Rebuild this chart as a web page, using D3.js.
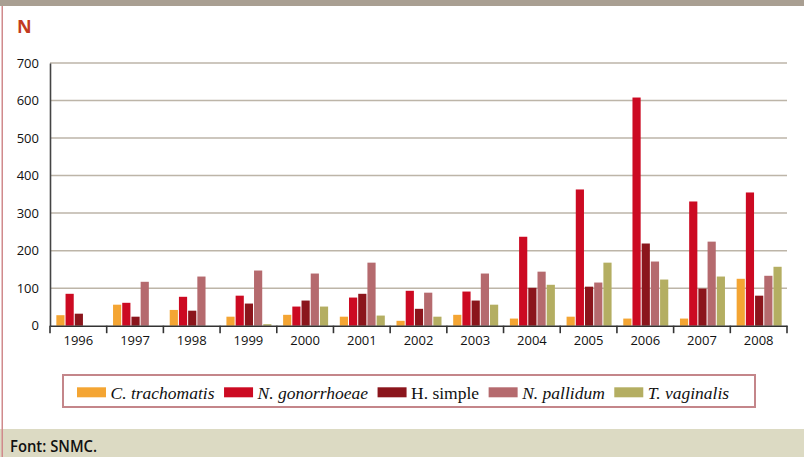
<!DOCTYPE html>
<html>
<head>
<meta charset="utf-8">
<script src="https://cdn.jsdelivr.net/npm/d3@7"></script>
<style>
  html, body { margin: 0; padding: 0; background: #fff; }
  svg { display: block; }
</style>
</head>
<body>
<svg id="chart" width="804" height="457"></svg>
<script>
const years = ["1996","1997","1998","1999","2000","2001","2002","2003","2004","2005","2006","2007","2008"];
const seriesNames = ["C. trachomatis","N. gonorrhoeae","H. simple","N. pallidum","T. vaginalis"];
const seriesItalic = [true, true, false, true, true];
const cTrachomatis = [28, 56, 42, 24, 29, 24, 13, 29, 19, 24, 19, 19, 125];
const nGonorrhoeae = [85, 61, 77, 80, 51, 75, 93, 91, 237, 363, 608, 331, 355];
const hSimple      = [32, 24, 40, 59, 67, 85, 45, 67, 101, 104, 219, 99, 80];
const nPallidum    = [0, 117, 131, 147, 139, 168, 88, 139, 144, 115, 171, 224, 133];
const tVaginalis   = [0, 0, 0, 4, 51, 27, 24, 56, 109, 168, 123, 131, 157];
const yTicks = [0, 100, 200, 300, 400, 500, 600, 700];
const colors = ["#F4A533", "#CC0A22", "#8B151C", "#B56A6E", "#B4AE62"];

const series = [cTrachomatis, nGonorrhoeae, hSimple, nPallidum, tVaginalis];

const svg = d3.select("#chart");
const W = 804, H = 457;
const mLeft = 50, mRight = 787, mTop = 63, mBottom = 325.7;

// frame decorations
svg.append("rect").attr("x",0).attr("y",0).attr("width",W).attr("height",6).attr("fill","#A99F92");
svg.append("rect").attr("x",0).attr("y",429).attr("width",W).attr("height",28).attr("fill","#DCDAC3");
svg.append("rect").attr("x",1.5).attr("y",6).attr("width",1.5).attr("height",H-6).attr("fill","#D08A8C");

svg.append("text").attr("x",17).attr("y",33.3)
  .attr("font-family","'Open Sans', sans-serif").attr("font-weight","bold")
  .attr("font-size",18).attr("fill","#C23B1E").text("N");

svg.append("text").attr("x",10).attr("y",451.5)
  .attr("font-family","'Open Sans', sans-serif").attr("font-size",16).attr("font-weight",600)
  .attr("fill","#111").attr("textLength",87).attr("lengthAdjust","spacingAndGlyphs").text("Font: SNMC.");

const x0 = d3.scaleBand().domain(years).range([mLeft, mRight]).paddingInner(0).paddingOuter(0);
const x1 = d3.scaleBand().domain(d3.range(series.length)).range([0, 45]).paddingInner(1/9).paddingOuter(0);
const y = d3.scaleLinear().domain([0, 700]).range([mBottom, mTop]);

// gridlines
svg.append("g").selectAll("line").data(yTicks.filter(d => d > 0)).join("line")
  .attr("x1", mLeft).attr("x2", mRight)
  .attr("y1", d => y(d)).attr("y2", d => y(d))
  .attr("stroke", "#BDB5A8").attr("stroke-width", 1.5);

// bars
const groups = svg.append("g").selectAll("g").data(years).join("g")
  .attr("transform", d => `translate(${x0(d) + (x0.bandwidth() - 44) / 2},0)`);
groups.selectAll("rect").data((d, i) => series.map((s, k) => ({k, v: s[i]}))).join("rect")
  .attr("x", d => x1(d.k)).attr("width", x1.bandwidth())
  .attr("y", d => y(d.v)).attr("height", d => y(0) - y(d.v))
  .attr("fill", d => colors[d.k]);

// y axis
const yAxis = svg.append("g").attr("transform", `translate(${mLeft},0)`)
  .call(d3.axisLeft(y).tickValues(yTicks).tickSize(0).tickPadding(11));
yAxis.select(".domain").attr("stroke", "#444").attr("stroke-width", 1.6);
yAxis.selectAll("text").attr("font-family", "'Open Sans', sans-serif").attr("font-size", 13).attr("fill", "#111");

// x axis
const xAxis = svg.append("g").attr("transform", `translate(0,${mBottom})`)
  .call(d3.axisBottom(x0).tickSize(0).tickPadding(10));
xAxis.select(".domain").attr("stroke", "#333").attr("stroke-width", 1.6);
xAxis.selectAll("text").attr("font-family", "'Open Sans', sans-serif").attr("font-size", 13).attr("fill", "#111");
svg.append("g").selectAll("line").data(d3.range(years.length + 1)).join("line")
  .attr("x1", i => mLeft + i * x0.step()).attr("x2", i => mLeft + i * x0.step())
  .attr("y1", mBottom).attr("y2", mBottom + 7.5)
  .attr("stroke", "#333").attr("stroke-width", 1.6);

// legend
svg.append("rect").attr("x", 63).attr("y", 375).attr("width", 692).attr("height", 32)
  .attr("fill", "#fff").attr("stroke", "#C4868A").attr("stroke-width", 2);
let lx = 77;
seriesNames.forEach((name, k) => {
  svg.append("rect").attr("x", lx).attr("y", 387.3).attr("width", 29).attr("height", 10).attr("fill", colors[k]);
  const t = svg.append("text").attr("x", lx + 33.5).attr("y", 398.5)
    .attr("font-family", "'Liberation Serif', 'Times New Roman', serif")
    .attr("font-style", seriesItalic[k] ? "italic" : "normal")
    .attr("font-size", 17.5).attr("fill", "#111").text(name);
  const w = t.node().getComputedTextLength();
  lx = lx + 33.5 + w + 9.5;
});
</script>
</body>
</html>
